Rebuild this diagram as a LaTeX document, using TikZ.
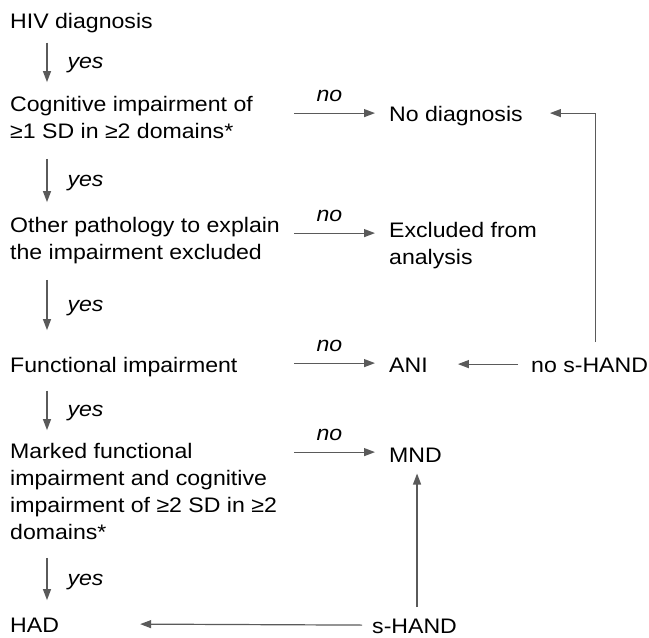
\documentclass[tikz,border=0pt]{standalone}
\usepackage{fontspec}
\setmainfont{Liberation Sans}[FakeStretch=1.1]
\usetikzlibrary{arrows.meta}
\definecolor{arrgray}{RGB}{90,90,90}

\begin{document}
\begin{tikzpicture}[x=1pt, y=-1pt,
  box/.style={anchor=north west, inner sep=0pt, align=left,
    font=\fontsize{21}{27}\selectfont, execute at begin node=\strut},
  arr/.style={-{Triangle[length=11pt, width=8pt]}, line width=1.2pt, arrgray},
  yeslbl/.style={midway, anchor=west, xshift=20pt, yshift=-3pt, inner sep=0pt,
    text=black, font=\fontsize{21}{27}\selectfont\itshape},
  nolbl/.style={midway, above=11pt, xshift=-5pt, inner sep=0pt,
    text=black, font=\fontsize{21}{27}\selectfont\itshape}]

\useasboundingbox (0,0) rectangle (649,638);

% left column
\node[box] (hiv) at (10,9.1) {HIV diagnosis};
\node[box] (cog) at (10,96.1) {Cognitive impairment of\\ ≥1 SD in ≥2 domains*};
\node[box] (oth) at (10,217.1) {Other pathology to explain\\ the impairment excluded};
\node[box] (fun) at (10,353.1) {Functional impairment};
\node[box] (mrk) at (10,443.1) {Marked functional\\ impairment and cognitive\\ impairment of ≥2 SD in ≥2\\ domains*};
\node[box] (had) at (10,613.1) {HAD};

% right column
\node[box] (nodx) at (389,102.1) {No diagnosis};
\node[box] (excl) at (389,221.6) {Excluded from\\ analysis};
\node[box] (ani) at (389,353.1) {ANI};
\node[box] (mnd) at (389,443.1) {MND};
\node[box] (noshand) at (531,353.1) {no s-HAND};
\node[box] (shand) at (372,614.1) {s-HAND};

% yes arrows
\draw[arr] ([xshift=37pt, yshift=-6pt]hiv.south west) -- ([xshift=37pt, yshift=14pt]cog.north west) node[yeslbl]{yes};
\draw[arr] ([xshift=37pt, yshift=-12pt]cog.south west) -- ([xshift=37pt, yshift=15pt]oth.north west) node[yeslbl]{yes};
\draw[arr] ([xshift=37pt, yshift=-12pt]oth.south west) -- ([xshift=37pt, yshift=23pt]fun.north west) node[yeslbl]{yes};
\draw[arr] ([xshift=37pt, yshift=-10pt]fun.south west) -- ([xshift=37pt, yshift=13pt]mrk.north west) node[yeslbl]{yes};
\draw[arr] ([xshift=37pt, yshift=-10pt]mrk.south west) -- ([xshift=37pt, yshift=13pt]had.north west) node[yeslbl]{yes};

% no arrows
\draw[arr] ([xshift=-95pt, yshift=-11pt]nodx.north west) -- ([xshift=-14pt, yshift=-11pt]nodx.north west) node[nolbl]{no};
\draw[arr] ([xshift=-95pt, yshift=-11.5pt]excl.north west) -- ([xshift=-14pt, yshift=-11.5pt]excl.north west) node[nolbl]{no};
\draw[arr] ([xshift=-95pt, yshift=-10pt]ani.north west) -- ([xshift=-14pt, yshift=-10pt]ani.north west) node[nolbl]{no};
\draw[arr] ([xshift=-95pt, yshift=-9pt]mnd.north west) -- ([xshift=-14pt, yshift=-9pt]mnd.north west) node[nolbl]{no};

% s-HAND loops
\draw[arr] ([xshift=-13pt, yshift=-11pt]noshand.north west) -- ([xshift=30pt, yshift=-11pt]ani.north east);
\draw[arr] ([xshift=6pt, yshift=11pt]noshand.north) |- ([xshift=27pt, yshift=-11pt]nodx.north east);
\draw[arr] ([xshift=-10pt, yshift=-11pt]shand.north west) -- ([xshift=81pt, yshift=-11pt]had.north east);
\draw[arr] ([xshift=2.5pt, yshift=7pt]shand.north) -- ([xshift=2.5pt, yshift=-3pt]shand.north |- mnd.south);

\end{tikzpicture}
\end{document}
